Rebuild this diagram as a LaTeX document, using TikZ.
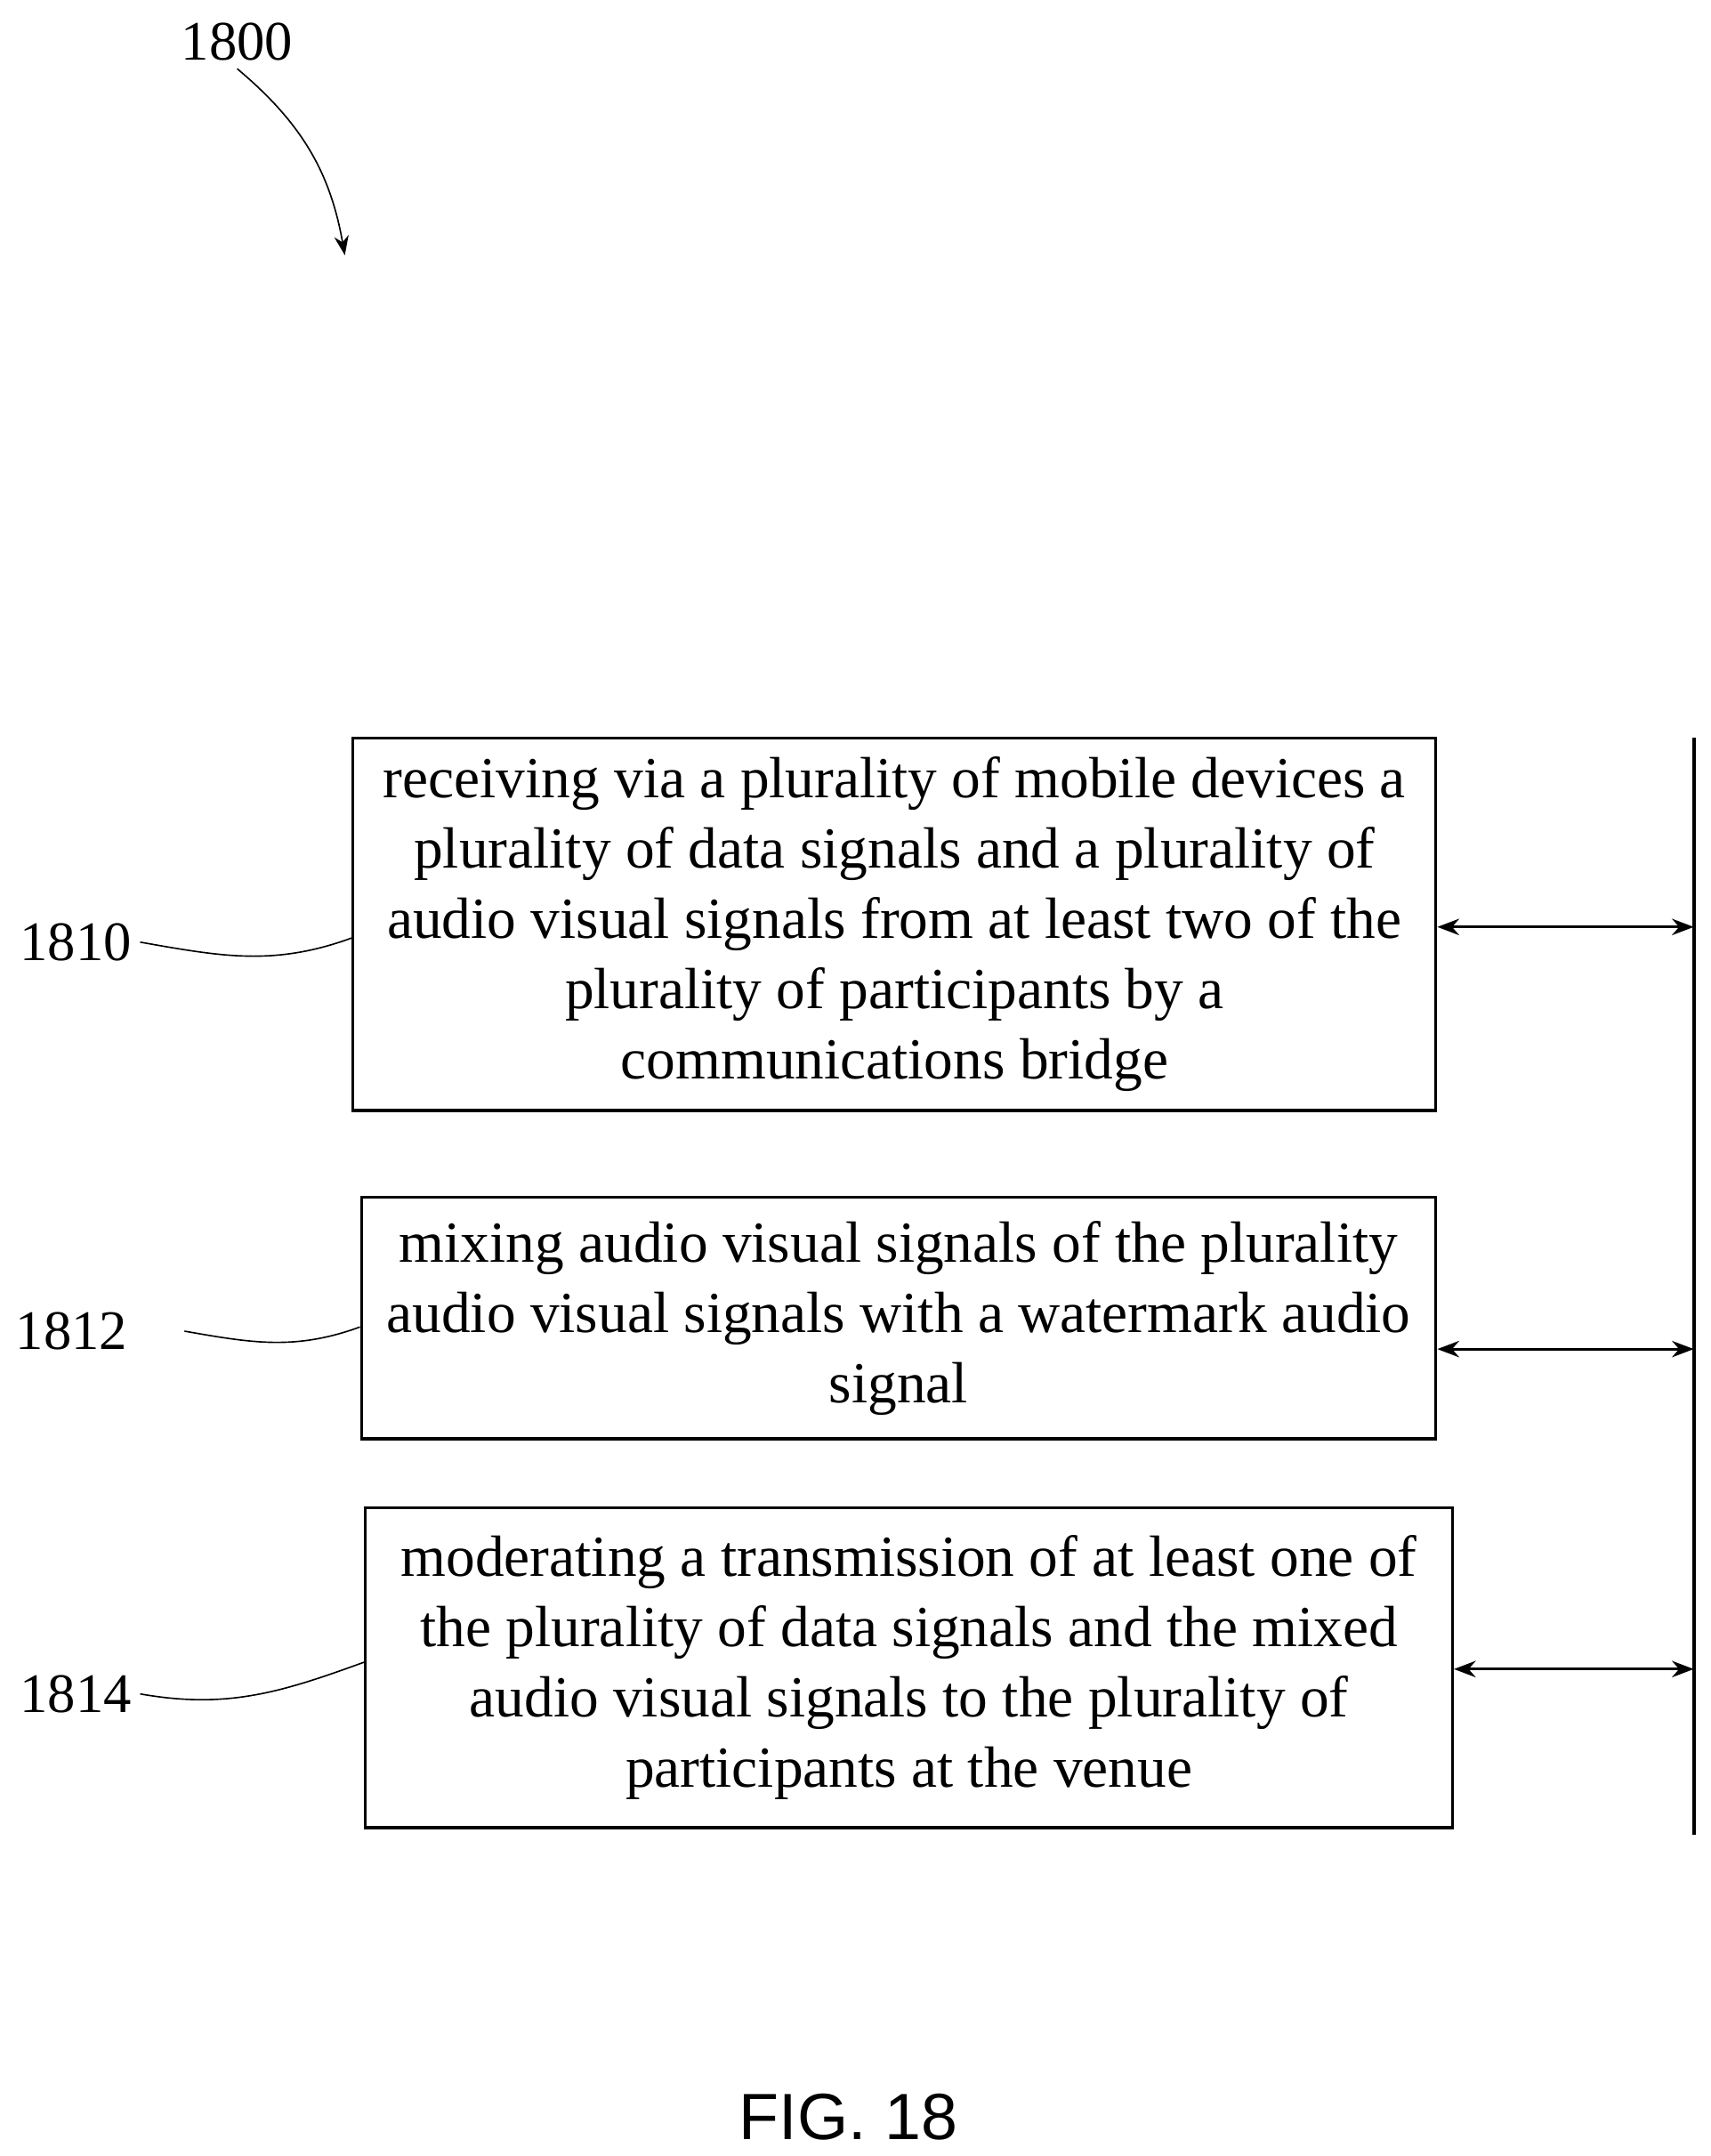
\documentclass[tikz,border=0pt]{standalone}
\usepackage{fontspec}
\setmainfont{Liberation Serif}
\newfontfamily\figfont{Liberation Sans}
\usetikzlibrary{arrows.meta,positioning}

\begin{document}
\begin{tikzpicture}[
    x=0.02cm, y=-0.02cm,
    stepbox/.style={rectangle, draw, line width=1.2pt, align=center, inner sep=2pt, font=\fontsize{24}{29}\selectfont},
    ref/.style={font=\fontsize{23}{27}\selectfont},
    lead/.style={line width=0.6pt},
    link/.style={line width=1.2pt, {Stealth[length=9pt]}-{Stealth[length=9pt]}}
]
\useasboundingbox (0,0) rectangle (1240,1563);

% Steps
\node[stepbox, minimum width=785*0.02cm, minimum height=270*0.02cm] (recv) at (648.5,670)
  {receiving via a plurality of mobile devices a\\ plurality of data signals and a plurality of\\ audio visual signals from at least two of the\\ plurality of participants by a\\ communications bridge};
\node[stepbox, minimum width=779*0.02cm, minimum height=175*0.02cm] (mix) at (651.5,955.5)
  {mixing audio visual signals of the plurality\\ audio visual signals with a watermark audio\\ signal};
\node[stepbox, minimum width=788*0.02cm, minimum height=232*0.02cm] (mod) at (659,1209)
  {moderating a transmission of at least one of\\ the plurality of data signals and the mixed\\ audio visual signals to the plurality of\\ participants at the venue};

% Bus line
\coordinate (bustop) at (1228,535);
\coordinate (busbot) at (1228,1330);
\draw[line width=1.6pt] (bustop) -- (busbot);
\coordinate (b1) at (1228,672);
\coordinate (b2) at (1228,978);
\coordinate (b3) at (1228,1210);
\draw[link] (recv.east |- b1) -- (b1);
\draw[link] (mix.east |- b2) -- (b2);
\draw[link] (mod.east |- b3) -- (b3);

% Reference numerals
\node[ref] (n1800) at (172,30) {1800};
\coordinate (a1800) at (250,185);
\draw[lead, -{Stealth[length=8pt]}] (n1800.south) to[out=-40, in=100] (a1800);
\node[ref] (n1810) at (55,683) {1810};
\node[ref] (n1812) at (52,965) {1812};
\node[ref] (n1814) at (55,1228) {1814};
\draw[lead] (n1810.east) to[out=-10, in=200] (recv.west |- 0,680);
\draw[lead] ([xshift=20pt]n1812.east) to[out=-10, in=200] (mix.west |- 0,962);
\draw[lead] (n1814.east) to[out=-10, in=200] (mod.west |- 0,1205);

\node[font=\figfont\fontsize{27}{30}\selectfont] (fig) at (615,1535) {FIG. 18};
\end{tikzpicture}
\end{document}
